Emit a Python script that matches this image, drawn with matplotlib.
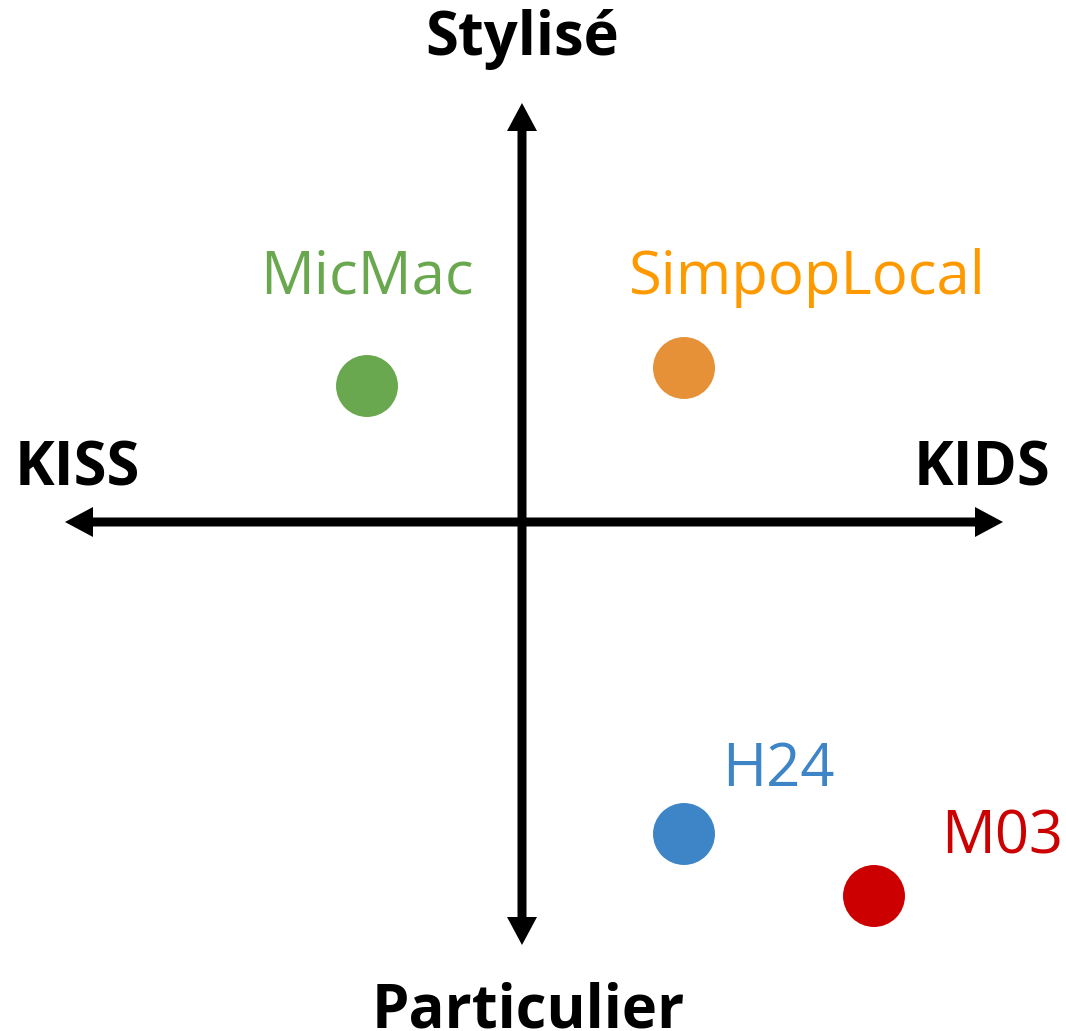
import matplotlib
matplotlib.use("Agg")
import matplotlib.pyplot as plt

# Models placed on the KISS/KIDS (x) vs Stylisé/Particulier (y) plane
models = ["MicMac", "SimpopLocal", "H24", "M03"]
x_vals = [-155, 162, 162, 352]
y_vals = [136, 154, -312, -374]

axis_left, axis_right = "KISS", "KIDS"
axis_top, axis_bottom = "Stylisé", "Particulier"

# Styling
dot_colors = ["#6aa84f", "#e69138", "#3d85c6", "#cc0000"]
text_colors = ["#6aa84f", "#ff9900", "#3d85c6", "#cc0000"]
label_pos = [(-155, 228), (285, 228), (256, -264), (480, -332)]

plt.rcParams["font.family"] = ["Open Sans", "DejaVu Sans"]

fig = plt.figure(figsize=(10.66, 10.31), dpi=100)
ax = fig.add_axes([0, 0, 1, 1])
ax.set_xlim(-522, 544)
ax.set_ylim(-509, 522)
ax.axis("off")

arrow_kw = dict(width=9, head_width=30, head_length=28,
                length_includes_head=True, color="black", lw=0)
ax.arrow(0, 0, -457, 0, **arrow_kw)
ax.arrow(0, 0, 481, 0, **arrow_kw)
ax.arrow(0, 0, 0, 419, **arrow_kw)
ax.arrow(0, 0, 0, -423, **arrow_kw)

bold_kw = dict(ha="center", va="baseline", fontsize=43, fontweight="bold")
ax.text(0, 467, axis_top, **bold_kw)
ax.text(6, -505, axis_bottom, **bold_kw)
ax.text(-445, 37, axis_left, **bold_kw)
ax.text(460, 37, axis_right, **bold_kw)

ax.scatter(x_vals, y_vals, s=1990, c=dot_colors, linewidths=0, zorder=3)
for name, (lx, ly), col in zip(models, label_pos, text_colors):
    ax.text(lx, ly, name, ha="center", va="baseline", fontsize=43, color=col)

fig.savefig("out.png", dpi=100)
